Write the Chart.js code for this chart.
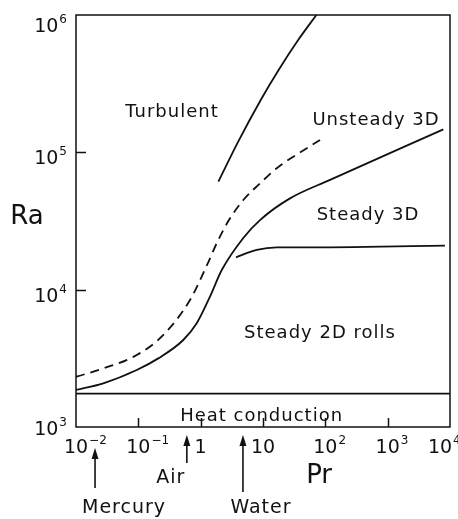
<!DOCTYPE html>
<html>
<head>
<meta charset="utf-8">
<script src="https://cdn.jsdelivr.net/npm/chart.js@4.4.1/dist/chart.umd.min.js"></script>
<style>
  html, body { margin: 0; padding: 0; background: #fff; }
  canvas { display: block; }
</style>
</head>
<body>
<canvas id="myChart" width="458" height="519"></canvas>
<script>
// values: Pr (x) and Ra (y)
let xTicks = [0.01, 0.1, 1, 10, 100, 1000, 10000];
let yTicks = [1000, 10000, 100000, 1000000];

// onset of steady 3D (solid, lower)
let mainPr = [0.01, 0.0274, 0.0942, 0.209, 0.526, 0.864, 1.41, 2.18, 4.83, 8.95, 27.1, 119, 7820];
let mainRa = [1860, 2080, 2600, 3160, 4300, 5690, 8890, 13900, 23800, 32100, 46200, 63000, 147000];

// dashed curve
let dashPr = [0.01, 0.0274, 0.0942, 0.252, 0.674, 1.33, 1.81, 2.78, 4.83, 8.95, 16.6, 30.6, 82.2];
let dashRa = [2320, 2670, 3340, 4680, 8410, 15900, 21800, 31600, 45000, 59400, 76600, 92900, 123000];

// turbulence boundary
let turbPr = [1.92, 4.02, 9.29, 17.6, 36.9, 71.8];
let turbRa = [61100, 120200, 242700, 395000, 660000, 1000000];

// 2D rolls -> steady 3D
let rollPr = [3.69, 7.93, 16.6, 39.3, 8300];
let rollRa = [17200, 19450, 20300, 20300, 20900];

// heat conduction limit
let condPr = [0.01, 10000];
let condRa = [1750, 1750];

// region names: [text, Pr, Ra]
let regions = [
  ['Turbulent', 0.347, 180700],
  ['Unsteady 3D', 650, 158000],
  ['Steady 3D', 484, 32100],
  ['Steady 2D rolls', 82, 4450],
  ['Heat conduction', 9.5, 1107]
];

// fluids marked under the axis: [name, Pr]
let fluids = [['Mercury', 0.0202], ['Air', 0.60], ['Water', 4.77]];

const ink = '#111';
const font = '"DejaVu Sans", sans-serif';

function pts(xs, ys) {
  return xs.map((v, i) => ({ x: v, y: ys[i] }));
}

function line(xs, ys, dash) {
  return {
    data: pts(xs, ys),
    borderColor: ink,
    borderWidth: 1.8,
    borderDash: dash || [],
    pointRadius: 0,
    fill: false,
    cubicInterpolationMode: 'monotone'
  };
}

function drawPow(ctx, base, exp, x, yb, align) {
  ctx.font = '19px ' + font;
  let wb = ctx.measureText(base).width;
  ctx.font = '12px ' + font;
  let we = exp ? ctx.measureText(exp).width + 1 : 0;
  let start = align === 'right' ? x - wb - we : x - wb / 2;
  ctx.textAlign = 'left';
  ctx.font = '19px ' + font;
  ctx.fillText(base, start, yb);
  if (exp) {
    ctx.font = '12px ' + font;
    ctx.fillText(exp, start + wb + 1, yb - 9);
  }
}

function arrow(ctx, px, tip, end) {
  ctx.beginPath();
  ctx.moveTo(px, end);
  ctx.lineTo(px, tip + 6);
  ctx.stroke();
  ctx.beginPath();
  ctx.moveTo(px, tip);
  ctx.lineTo(px - 3.5, tip + 11);
  ctx.lineTo(px + 3.5, tip + 11);
  ctx.closePath();
  ctx.fill();
}

const figure = {
  id: 'figure',
  afterDraw(chart) {
    const { ctx, chartArea: a, scales: { x, y } } = chart;
    ctx.save();
    ctx.strokeStyle = ink;
    ctx.fillStyle = ink;
    ctx.lineWidth = 1.5;
    ctx.strokeRect(a.left, a.top, a.right - a.left, a.bottom - a.top);

    // inward ticks
    ctx.beginPath();
    xTicks.slice(1, -1).forEach(v => {
      let px = Math.round(x.getPixelForValue(v)) + 0.5;
      ctx.moveTo(px, a.bottom);
      ctx.lineTo(px, a.bottom - 9);
    });
    yTicks.slice(1, -1).forEach(v => {
      let py = Math.round(y.getPixelForValue(v)) + 0.5;
      ctx.moveTo(a.left, py);
      ctx.lineTo(a.left + 10, py);
    });
    ctx.stroke();

    // tick labels
    ctx.textBaseline = 'alphabetic';
    xTicks.forEach((v, i) => {
      let e = Math.round(Math.log10(v));
      let px = x.getPixelForValue(v);
      let base = e === 0 ? '1' : '10';
      let exp = (e === 0 || e === 1) ? '' : String(e).replace('-', '\u2212');
      if (i === xTicks.length - 1) px -= 10;
      drawPow(ctx, base, exp, px, a.bottom + 26, 'center');
    });
    yTicks.forEach((v, i) => {
      let e = Math.round(Math.log10(v));
      let py = y.getPixelForValue(v);
      let off = i === 0 ? 8 : (i === yTicks.length - 1 ? 17 : 12);
      drawPow(ctx, '10', String(e), a.left - 9, py + off, 'right');
    });

    // axis titles
    ctx.textAlign = 'center';
    ctx.font = '26px ' + font;
    ctx.fillText('Ra', 27, y.getPixelForValue(10 ** 4.55) + 10);
    ctx.fillText('Pr', x.getPixelForValue(10 ** 1.9), a.bottom + 56);

    // region names
    ctx.font = '18px ' + font;
    ctx.letterSpacing = '1px';
    regions.forEach(r => {
      ctx.fillText(r[0], x.getPixelForValue(r[1]), y.getPixelForValue(r[2]));
    });

    // fluids
    ctx.lineWidth = 1.6;
    let f = fluids.map(d => x.getPixelForValue(d[1]));
    arrow(ctx, f[0], a.bottom + 21, a.bottom + 61);
    arrow(ctx, f[1], a.bottom + 8, a.bottom + 36);
    arrow(ctx, f[2], a.bottom + 8, a.bottom + 65);
    ctx.font = '19px ' + font;
    ctx.fillText(fluids[0][0], f[0] + 29, a.bottom + 86);
    ctx.fillText(fluids[1][0], f[1] - 16, a.bottom + 56);
    ctx.fillText(fluids[2][0], f[2] + 18, a.bottom + 86);
    ctx.restore();
  }
};

new Chart('myChart', {
  type: 'line',
  data: {
    datasets: [
      line(mainPr, mainRa),
      line(dashPr, dashRa, [9, 6]),
      line(turbPr, turbRa),
      line(rollPr, rollRa),
      line(condPr, condRa)
    ]
  },
  options: {
    responsive: false,
    animation: false,
    layout: { padding: { left: 0, top: 15, right: 8, bottom: 0 } },
    plugins: { legend: { display: false }, tooltip: { enabled: false } },
    scales: {
      x: {
        type: 'logarithmic',
        min: 0.01,
        max: 10000,
        grid: { display: false },
        border: { display: false },
        ticks: { display: false },
        afterBuildTicks: s => { s.ticks = xTicks.map(v => ({ value: v })); },
        afterFit: s => { s.height = 92; }
      },
      y: {
        type: 'logarithmic',
        min: 1000,
        max: 1000000,
        grid: { display: false },
        border: { display: false },
        ticks: { display: false },
        afterBuildTicks: s => { s.ticks = yTicks.map(v => ({ value: v })); },
        afterFit: s => { s.width = 76; }
      }
    }
  },
  plugins: [figure]
});
</script>
</body>
</html>
